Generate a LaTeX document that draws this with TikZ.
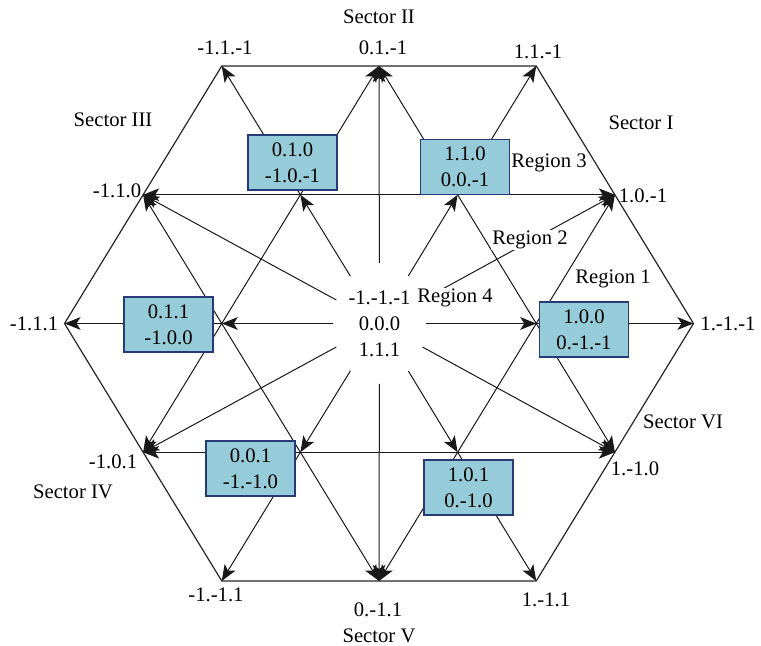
\documentclass[tikz,border=0pt]{standalone}
\usepackage{fontspec}
\setmainfont{Liberation Serif}
\usetikzlibrary{arrows.meta, calc, shapes.geometric}
\definecolor{boxfill}{RGB}{150,203,217}
\definecolor{boxline}{RGB}{38,58,118}
\begin{document}
\begin{tikzpicture}[
  x=0.75pt, y=0.75pt,
  font=\fontsize{15.5}{19.5}\selectfont,
  edge/.style={line width=0.9pt, black!85},
  arr/.style={-{Stealth[length=12pt, width=9.5pt, inset=3pt]}, line width=0.75pt, black!90},
  darr/.style={{Stealth[length=12pt, width=9.5pt, inset=3pt]}-{Stealth[length=12pt, width=9.5pt, inset=3pt]}, line width=0.75pt, black!90},
  vec/.style={rectangle, draw=boxline, fill=boxfill, line width=0.8pt,
    minimum width=66.75pt, minimum height=41.25pt, align=center, inner sep=1pt},
  lbl/.style={inner sep=1pt}
]
\useasboundingbox (-379,-322.5) rectangle (382,323.5);
% switching states
\foreach \a in {0,60,...,300} {
  \coordinate (l\a) at (\a:314.5 and 297.3);
  \coordinate (s\a) at (\a:157.25 and 148.65);
}
\foreach \a/\b/\m in {0/60/30, 60/120/90, 120/180/150, 180/240/210, 240/300/270, 300/0/330}
  \coordinate (m\m) at ($(l\a)!0.5!(l\b)$);
\node[ellipse, minimum width=70pt, minimum height=90pt, inner sep=0pt, align=center] (O) at (0.5,0)
  {-1.-1.-1\\0.0.0\\1.1.1};
% hexagon
\draw[edge] (l0) -- (l60) -- (l120) -- (l180) -- (l240) -- (l300) -- cycle;
% inner grid
\draw[darr] (m150) -- (m30);
\draw[darr] (m210) -- (m330);
\draw[darr] (m90) -- (m330);
\draw[darr] (m90) -- (m210);
\draw[darr] (m150) -- (m270);
\draw[darr] (m30) -- (m270);
% vectors
\foreach \a in {0,60,...,300} \draw[arr] (O) -- (s\a);
\foreach \a in {30,90,...,330} \draw[arr] (O) -- (m\a);
\foreach \a in {0,60,...,300} \draw[arr] (s\a) -- (l\a);
% small vector boxes
\node[vec] (b100) at (205,-6) {1.0.0\\0.-1.-1};
\node[vec] (b110) at (86,156.5) {1.1.0\\0.0.-1};
\node[vec] (b010) at (-86.5,161) {0.1.0\\-1.0.-1};
\node[vec] (b011) at (-210.5,-1) {0.1.1\\-1.0.0};
\node[vec] (b001) at (-128.5,-145) {0.0.1\\-1.-1.0};
\node[vec] (b101) at (89.5,-164) {1.0.1\\0.-1.0};
% labels
\node[lbl] (t2) at (0,306.5) {Sector II};
\node[lbl] (t3) at (-266,203.5) {Sector III};
\node[lbl] (t1) at (262,200.5) {Sector I};
\node[lbl] (t6) at (304,-98.5) {Sector VI};
\node[lbl] (t4) at (-306,-168.5) {Sector IV};
\node[lbl] (t5) at (0,-312.5) {Sector V};
\node[lbl] (r3) at (170,160.5) {Region 3};
\node[lbl, fill=white] (r2) at (151,83.5) {Region 2};
\node[lbl] (r1) at (234,44.5) {Region 1};
\node[lbl, fill=white] (r4) at (76,25.5) {Region 4};
\node[lbl] (nl120) at (-154,275.5) {-1.1.-1};
\node[lbl] (nm90) at (4,275.5) {0.1.-1};
\node[lbl] (nl60) at (159,271.5) {1.1.-1};
\node[lbl] (nm150) at (-262,132.5) {-1.1.0};
\node[lbl] (nm30) at (264,127.5) {1.0.-1};
\node[lbl] (nl180) at (-345,-0.5) {-1.1.1};
\node[lbl] (nl0) at (349,-0.5) {1.-1.-1};
\node[lbl] (nm210) at (-266,-138.5) {-1.0.1};
\node[lbl] (nm330) at (256,-145.5) {1.-1.0};
\node[lbl] (nl240) at (-163,-271.5) {-1.-1.1};
\node[lbl] (nm270) at (-1,-286.5) {0.-1.1};
\node[lbl] (nl300) at (167,-276.5) {1.-1.1};
\end{tikzpicture}
\end{document}
